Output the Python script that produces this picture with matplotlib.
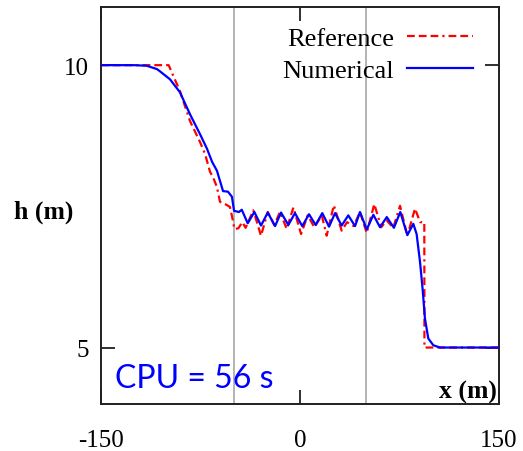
import matplotlib
matplotlib.use("Agg")
import matplotlib.pyplot as plt

# ---- data ----
ref_x = [-150, -99, -90.5, -82.9, -75.4, -71.6, -67.8, -65.6, -62.6, -60.3, -56.5, -52.8, -50.5,
         -49.5, -46.5, -43.5, -41.0, -35.2, -29.4, -24.3, -19.4, -15.1, -10.0, -5.0, 0.8, 5.8,
         10.8, 16.4, 20.1, 25.5, 31.4, 35.5, 40.5, 45.2, 50.3, 56.0, 61.2, 65.4, 70.3, 75.4,
         80.9, 86.7, 90.5, 93.7, 93.8, 150]
ref_h = [10.0, 10.0, 9.54, 9.01, 8.64, 8.43, 8.11, 8.02, 7.84, 7.58, 7.54, 7.49, 7.24,
         7.10, 7.11, 7.22, 7.12, 7.43, 6.98, 7.40, 7.17, 7.40, 7.10, 7.48, 7.01, 7.34,
         7.13, 7.34, 6.98, 7.52, 7.07, 7.22, 7.15, 7.40, 7.03, 7.54, 7.13, 7.25, 7.12, 7.51,
         6.98, 7.46, 7.22, 7.22, 5.0, 5.0]

num_x = [-150, -125, -115.6, -107.8, -105.5, -98.0, -90.5, -82.9, -75.4, -70.1, -66.3, -62.6,
         -60.3, -58.0, -54.3, -51.3, -49.7, -46.0, -43.9, -39.4, -34.4, -29.4, -24.3, -18.8,
         -14.3, -8.8, -3.8, 1.7, 6.8, 11.8, 16.8, 21.9, 26.4, 31.4, 36.4, 41.5, 45.2, 50.3,
         55.3, 60.3, 65.4, 70.8, 75.6, 80.9, 85.4, 87.9, 90.5, 92.4, 94.2, 96.7, 100.5, 105.5, 150]
num_h = [10.0, 10.0, 9.99, 9.93, 9.89, 9.75, 9.52, 9.13, 8.78, 8.52, 8.29, 8.13,
         7.95, 7.77, 7.76, 7.67, 7.42, 7.40, 7.44, 7.20, 7.40, 7.16, 7.39, 7.15,
         7.39, 7.17, 7.38, 7.15, 7.36, 7.17, 7.38, 7.14, 7.38, 7.16, 7.34, 7.15, 7.40, 7.09,
         7.35, 7.13, 7.31, 7.12, 7.40, 6.99, 7.19, 7.01, 6.51, 6.04, 5.51, 5.16, 5.04, 5.00, 5.0]

x_ticks = [-150, 0, 150]
x_tick_labels = ["-150", "0", "150"]
y_ticks = [5, 10]
y_tick_labels = ["5", "10"]
grid_x = [-50, 50]

serif = "Liberation Serif"

fig = plt.figure(figsize=(5.23, 4.52), dpi=100)
ax = fig.add_axes([101 / 523, 1 - 405 / 452, 398 / 523, 397 / 452])

for gx in grid_x:
    ax.axvline(gx, color="#a8a8a8", lw=1.2, zorder=1)

ax.plot(ref_x, ref_h, color="#ff0000", lw=1.6, dashes=(3.5, 1.8, 3.5, 1.8, 3.5, 1.8, 1, 1.8),
        label="Reference", zorder=3)
ax.plot(num_x, num_h, color="#0000ff", lw=1.6, label="Numerical", zorder=4)

ax.set_xlim(-150, 150)
ax.set_ylim(4.0, 11.03)
ax.set_xticks(x_ticks)
ax.set_xticklabels(x_tick_labels, fontfamily=serif, fontsize=18)
ax.set_yticks(y_ticks)
ax.set_yticklabels(y_tick_labels, fontfamily=serif, fontsize=18)
ax.tick_params(axis="x", direction="in", length=10, width=1.3, top=True, pad=18, color="#202020")
ax.tick_params(axis="y", direction="in", length=10, width=1.3, right=True, pad=9, color="#202020")
for s in ax.spines.values():
    s.set_linewidth(1.4)
    s.set_color("#202020")

leg = ax.legend(loc="upper right", bbox_to_anchor=(473 / 523, 1 - 28 / 452),
                bbox_transform=fig.transFigure, frameon=False, markerfirst=False,
                prop={"family": serif, "size": 19}, handlelength=2.5, handletextpad=0.5,
                labelspacing=0.32, borderpad=0, borderaxespad=0)

fig.text(73 / 523, 1 - 212 / 452, "h (m)", fontfamily=serif, fontweight="bold",
         fontsize=18.5, ha="right", va="center")
fig.text(497 / 523, 1 - 399 / 452, "x (m)", fontfamily=serif, fontweight="bold",
         fontsize=18.5, ha="right", va="baseline")
fig.text(115 / 523, 1 - 388 / 452, "CPU = 56 s", fontfamily="Lato", fontsize=23,
         color="#0000ff", ha="left", va="baseline")

fig.savefig("out.png", dpi=100)
